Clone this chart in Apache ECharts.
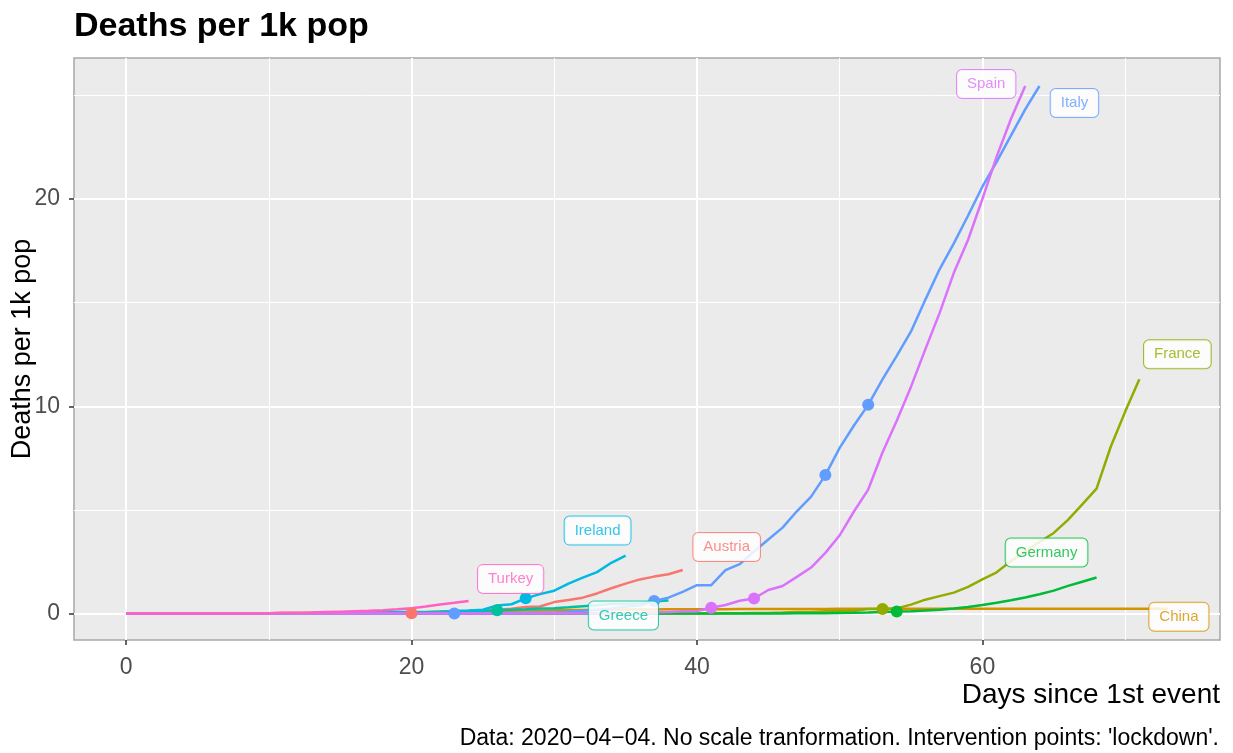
<!DOCTYPE html>
<html>
<head>
<meta charset="utf-8">
<script src="https://cdn.jsdelivr.net/npm/echarts@6/dist/echarts.min.js"></script>
<style>
  html, body { margin: 0; padding: 0; background: #ffffff; }
  #chart { width: 1233px; height: 753px; }
</style>
</head>
<body>
<div id="chart"></div>
<script>
// ---------------- DATA (values per day since 1st event, day 0 = first element) ----------------
const countries = ['Austria', 'China', 'France', 'Germany', 'Greece', 'Ireland', 'Italy', 'Spain', 'Turkey'];

const austria = [0,0,0,0,0,0,0,0,0,0,0,0,0,0,0,0,0,0.011,0.011,0.011,0.011,0.011,0.034,0.034,0.068,0.090,0.181,0.237,0.316,0.339,0.553,0.655,0.767,0.971,1.219,1.445,1.648,1.783,1.896,2.099];

const china = [0.001,0.001,0.002,0.003,0.004,0.006,0.009,0.010,0.012,0.015,0.019,0.026,0.030,0.035,0.040,0.045,0.051,0.057,0.065,0.072,0.079,0.080,0.098,0.099,0.109,0.119,0.127,0.134,0.143,0.152,0.160,0.168,0.175,0.185,0.190,0.194,0.196,0.199,0.203,0.205,0.208,0.211,0.213,0.215,0.217,0.219,0.221,0.223,0.224,0.226,0.227,0.227,0.228,0.229,0.230,0.231,0.232,0.232,0.232,0.233,0.234,0.234,0.234,0.235,0.235,0.235,0.236,0.236,0.236,0.236,0.237,0.237,0.238,0.238];

const france = [0,0,0,0,0,0,0,0,0,0,0,0,0,0,0,0,0,0,0,0,0,0,0.0015,0.0015,0.0015,0.0015,0.0015,0.0015,0.0015,0.0015,0.0015,0.0015,0.0015,0.0015,0.0015,0.0015,0.0015,0.003,0.0045,0.006,0.006,0.009,0.013,0.016,0.028,0.028,0.049,0.072,0.072,0.118,0.136,0.136,0.22,0.22,0.25,0.43,0.67,0.84,1.01,1.29,1.65,1.99,2.53,2.98,3.45,3.89,4.52,5.27,6.03,8.06,9.73,11.30];

const germany = [0,0,0,0,0,0,0,0,0,0,0,0,0,0,0,0,0,0,0,0,0,0,0,0,0,0,0,0,0,0,0,0,0,0,0,0,0,0,0,0,0,0,0.002,0.002,0.004,0.004,0.008,0.011,0.013,0.020,0.029,0.034,0.053,0.081,0.101,0.113,0.148,0.189,0.248,0.322,0.412,0.522,0.642,0.777,0.934,1.108,1.334,1.536,1.740];

const greece = [0,0,0,0,0,0,0,0,0,0,0,0,0,0,0,0.009,0.009,0.028,0.037,0.037,0.047,0.047,0.056,0.056,0.121,0.140,0.159,0.187,0.206,0.243,0.262,0.299,0.355,0.402,0.458,0.467,0.495,0.589,0.636];

const ireland = [0,0,0,0,0,0,0,0,0,0,0,0.020,0.020,0.020,0.041,0.041,0.041,0.041,0.041,0.061,0.061,0.061,0.082,0.122,0.143,0.184,0.388,0.449,0.735,0.939,1.102,1.449,1.735,2.000,2.449,2.796];

const italy = [0,0,0,0,0,0,0,0,0,0,0,0,0,0,0,0,0,0,0,0,0,0.002,0.003,0.005,0.012,0.017,0.020,0.028,0.035,0.048,0.056,0.086,0.131,0.177,0.245,0.326,0.386,0.606,0.767,1.045,1.370,1.370,2.097,2.387,2.997,3.575,4.147,4.934,5.641,6.680,7.994,9.072,10.069,11.299,12.431,13.610,15.133,16.605,17.858,19.203,20.590,21.794,23.053,24.322,25.450];

const spain = [0,0,0,0,0,0,0,0,0,0,0,0,0,0,0,0,0,0,0,0,0,0,0,0,0,0,0,0,0,0,0,0.002,0.004,0.006,0.011,0.021,0.036,0.060,0.075,0.115,0.117,0.283,0.415,0.616,0.729,1.135,1.327,1.768,2.222,2.929,3.775,4.923,5.982,7.770,9.299,10.946,12.744,14.493,16.438,18.031,19.998,22.045,23.856,25.452];

const turkey = [0,0,0,0,0,0,0.001,0.001,0.004,0.005,0.011,0.037,0.045,0.054,0.072,0.091,0.112,0.132,0.160,0.205,0.261,0.338,0.434,0.518,0.611];

// intervention ('lockdown') days per country
const lockdownDays = {
  Austria: [20],
  Italy: [23, 37, 49, 52],
  Greece: [26],
  Ireland: [28],
  Spain: [41, 44],
  France: [53],
  Germany: [54]
};

const xTicks = [0, 20, 40, 60];
const xMinorTicks = [10, 30, 50, 70];
const yTicks = [0, 10, 20];
const yMinorTicks = [5, 15, 25];

// ---------------- STYLE / LAYOUT ----------------
const seriesValues = [austria, china, france, germany, greece, ireland, italy, spain, turkey];
const colors = ['#F8766D', '#D39200', '#93AA00', '#00BA38', '#00C19F', '#00B9E3', '#619CFF', '#DB72FB', '#FF61C3'];
// pixel offsets of the repelled name labels from each line's last point
const labelOffsets = {
  Austria: [44, -23], China: [11, 8], France: [38, -25], Germany: [-50, -25],
  Greece: [-45, 15], Ireland: [-28, -25], Italy: [35, 17], Spain: [-39, -2], Turkey: [42, -22]
};

const FONT = '"Liberation Sans", Arial, Helvetica, sans-serif';

function rgba(hex, a) {
  const r = parseInt(hex.slice(1, 3), 16), g = parseInt(hex.slice(3, 5), 16), b = parseInt(hex.slice(5, 7), 16);
  return 'rgba(' + r + ',' + g + ',' + b + ',' + a + ')';
}

const xMin = -3.65, xMax = 76.65, yMin = -1.275, yMax = 26.8;

const lineSeries = countries.map((name, i) => {
  const vals = seriesValues[i];
  const data = vals.map((v, d) => [d, v]);
  const last = data[data.length - 1];
  return {
    name: name,
    type: 'line',
    data: data,
    showSymbol: false,
    symbol: 'none',
    z: 2,
    lineStyle: { color: colors[i], width: 2.5 },
    itemStyle: { color: colors[i] },
    silent: true,
    markPoint: {
      symbol: 'circle',
      symbolSize: 0,
      silent: true,
      z: 10,
      data: [{ coord: last }],
      label: {
        show: true,
        position: 'inside',
        formatter: name,
        offset: labelOffsets[name],
        fontFamily: FONT,
        fontSize: 15,
        color: rgba(colors[i], 0.8),
        backgroundColor: 'rgba(255,255,255,0.85)',
        borderColor: rgba(colors[i], 0.8),
        borderWidth: 1,
        borderRadius: 5,
        padding: [7, 10, 6, 10]
      }
    }
  };
});

const pointSeries = countries.filter(n => lockdownDays[n]).map(name => {
  const i = countries.indexOf(name);
  const vals = seriesValues[i];
  return {
    name: name + ' lockdown',
    type: 'scatter',
    z: 3,
    symbol: 'circle',
    symbolSize: 12,
    itemStyle: { color: colors[i], opacity: 1 },
    silent: true,
    data: lockdownDays[name].map(d => [d, vals[d]])
  };
});

const chart = echarts.init(document.getElementById('chart'), null, { renderer: 'canvas' });

const option = {
  animation: false,
  backgroundColor: '#ffffff',
  textStyle: { fontFamily: FONT },
  title: [
    { text: 'Deaths per 1k pop', left: 74, top: 10, padding: 0,
      textStyle: { fontFamily: FONT, fontSize: 34, fontWeight: 'bold', color: '#000000' } },
    { text: 'Days since 1st event', right: 13, top: 681, padding: 0,
      textStyle: { fontFamily: FONT, fontSize: 28, fontWeight: 'normal', color: '#000000' } },
    { text: 'Data: 2020\u221204\u221204. No scale tranformation. Intervention points: \'lockdown\'.', right: 14, top: 727, padding: 0,
      textStyle: { fontFamily: FONT, fontSize: 23, fontWeight: 'normal', color: '#000000' } }
  ],
  grid: {
    left: 74, right: 13, top: 58, bottom: 113,
    show: true, backgroundColor: '#EBEBEB', borderColor: '#A8A8A8', borderWidth: 1.5,
    containLabel: false,
    outerBoundsMode: 'none'
  },
  xAxis: [
    {
      type: 'value', min: xMin, max: xMax, position: 'bottom',
      axisLine: { show: false, onZero: false },
      axisTick: { show: true, customValues: xTicks, length: 5, lineStyle: { color: '#333333', width: 1.5 } },
      axisLabel: { show: true, customValues: xTicks, margin: 16, fontSize: 23, color: '#4D4D4D', fontFamily: FONT },
      splitLine: { show: true, lineStyle: { color: '#FFFFFF', width: 2 } }
    },
    {
      type: 'value', min: xMin, max: xMax, position: 'bottom', offset: 0,
      axisLine: { show: false, onZero: false },
      axisTick: { show: false, customValues: xMinorTicks },
      axisLabel: { show: false, customValues: xMinorTicks },
      splitLine: { show: true, lineStyle: { color: '#FFFFFF', width: 1 } }
    }
  ],
  yAxis: [
    {
      type: 'value', min: yMin, max: yMax, position: 'left',
      name: 'Deaths per 1k pop', nameLocation: 'middle', nameGap: 38, nameRotate: 90,
      nameMoveOverlap: false,
      nameTextStyle: { fontFamily: FONT, fontSize: 27, color: '#000000' },
      axisLine: { show: false, onZero: false },
      axisTick: { show: true, customValues: yTicks, length: 5, lineStyle: { color: '#333333', width: 1.5 } },
      axisLabel: { show: true, customValues: yTicks, margin: 14, fontSize: 23, color: '#4D4D4D', fontFamily: FONT },
      splitLine: { show: true, lineStyle: { color: '#FFFFFF', width: 2 } }
    },
    {
      type: 'value', min: yMin, max: yMax, position: 'left', offset: 0,
      axisLine: { show: false, onZero: false },
      axisTick: { show: false, customValues: yMinorTicks },
      axisLabel: { show: false, customValues: yMinorTicks },
      splitLine: { show: true, lineStyle: { color: '#FFFFFF', width: 1 } }
    }
  ],
  series: lineSeries.concat(pointSeries)
};

chart.setOption(option);
</script>
</body>
</html>
